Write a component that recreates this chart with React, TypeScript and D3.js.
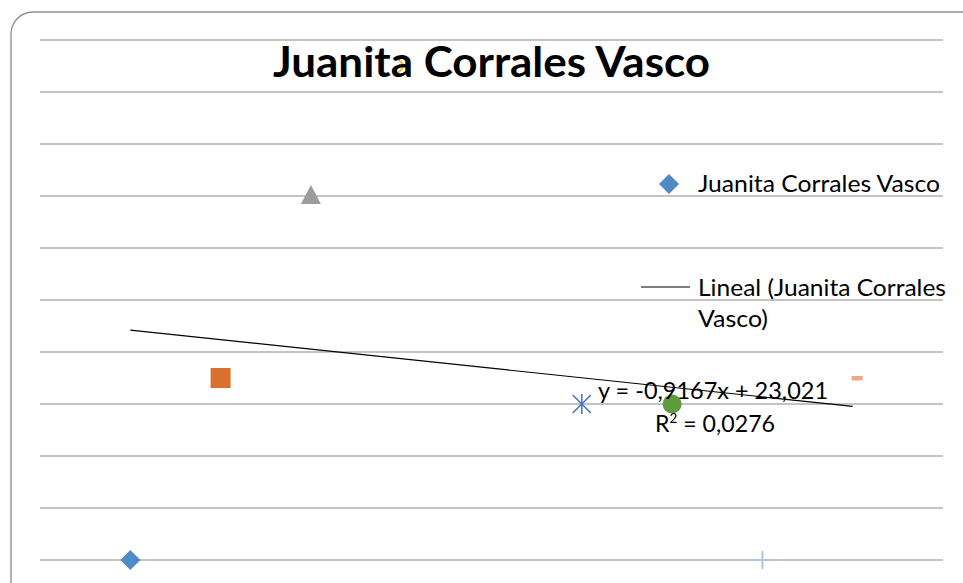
import React from "react";
import * as d3 from "d3";

const xValues = [1, 2, 3, 4, 6, 7, 8, 9];
const yValues = [0, 17.5, 35, 47.5, 15, 15, 0, 17.5];
const markerColors = ["#4f8ac6", "#d9702f", "#9c9c9c", "#f0b400", "#4472c4", "#5f9a3c", "#a9c6ea", "#f2a587"];
const markerKinds = ["diamond", "square", "triangle", "x", "star", "circle", "plus", "dash"];
const yTicks = [0, 5, 10, 15, 20, 25, 30, 35, 40, 45, 50];
const titleText = "Juanita Corrales Vasco";
const legendSeries = "Juanita Corrales Vasco";
const legendTrend1 = "Lineal (Juanita Corrales";
const legendTrend2 = "Vasco)";

const W = 963;
const H = 583;
const FONT = "Lato, 'Open Sans', sans-serif";

function Marker({ kind, cx, cy, color }: { kind: string; cx: number; cy: number; color: string }) {
  switch (kind) {
    case "diamond":
      return <path d={`M${cx},${cy - 10}L${cx + 10},${cy}L${cx},${cy + 10}L${cx - 10},${cy}Z`} fill={color} />;
    case "square":
      return <rect x={cx - 10} y={cy - 10} width={20} height={20} fill={color} />;
    case "triangle":
      return <path d={`M${cx},${cy - 11}L${cx + 10},${cy + 8}L${cx - 10},${cy + 8}Z`} fill={color} />;
    case "x":
      return (
        <g stroke={color} strokeWidth={1.5}>
          <line x1={cx - 6} y1={cy - 7} x2={cx + 6} y2={cy + 7} />
          <line x1={cx - 6} y1={cy + 7} x2={cx + 6} y2={cy - 7} />
        </g>
      );
    case "star":
      return (
        <g stroke={color} strokeWidth={1.5}>
          <line x1={cx - 9} y1={cy - 9} x2={cx + 9} y2={cy + 9} />
          <line x1={cx - 9} y1={cy + 9} x2={cx + 9} y2={cy - 9} />
          <line x1={cx} y1={cy - 10} x2={cx} y2={cy + 10} />
        </g>
      );
    case "circle":
      return <circle cx={cx} cy={cy} r={9.5} fill={color} />;
    case "plus":
      return (
        <g stroke={color} strokeWidth={2}>
          <line x1={cx - 9} y1={cy} x2={cx + 9} y2={cy} />
          <line x1={cx} y1={cy - 9} x2={cx} y2={cy + 9} />
        </g>
      );
    case "dash":
      return <rect x={cx - 1} y={cy - 2} width={11} height={4.5} fill={color} />;
    default:
      return null;
  }
}

export default function App() {
  const x = d3.scaleLinear().domain([0, 10]).range([40, 943]);
  const y = d3.scaleLinear().domain([0, 50]).range([560, 40]);

  const mx = d3.mean(xValues)!;
  const my = d3.mean(yValues)!;
  const sxy = d3.sum(xValues.map((v, i) => (v - mx) * (yValues[i] - my)));
  const sxx = d3.sum(xValues.map((v) => (v - mx) ** 2));
  const slope = sxy / sxx;
  const intercept = my - slope * mx;
  const x0 = d3.min(xValues)!;
  const x1 = d3.max(xValues)!;
  const line = d3.line<number>().x((d) => x(d)).y((d) => y(slope * d + intercept));

  const fmt = (v: number, digits: number) => v.toFixed(digits).replace(".", ",");
  const eq = `y = ${fmt(slope, 4)}x + ${fmt(intercept, 3)}`;

  return (
    <svg width={W} height={H} style={{ position: "absolute", left: 0, top: 0, background: "#fff" }}>
      <rect x={11} y={12} width={975} height={600} rx={22} ry={22} fill="#fff" stroke="#8c8c8c" strokeWidth={1.3} />
      {yTicks.map((t) => (
        <line key={t} x1={40} x2={943} y1={y(t)} y2={y(t)} stroke="#b0b0b0" strokeWidth={1.5} />
      ))}
      {xValues.map((v, i) =>
        markerKinds[i] === "x" ? (
          <Marker key={i} kind={markerKinds[i]} cx={x(v) + 3} cy={y(yValues[i])} color={markerColors[i]} />
        ) : null
      )}
      <text x={273} y={77} textLength={437} lengthAdjust="spacingAndGlyphs" fontFamily={FONT} fontWeight="bold" fontSize={42} fill="#000">
        {titleText}
      </text>
      <path d={line([x0, x1]) || ""} stroke="#000" strokeWidth={1.2} fill="none" />
      {xValues.map((v, i) =>
        markerKinds[i] !== "x" ? (
          <Marker key={i} kind={markerKinds[i]} cx={x(v)} cy={y(yValues[i])} color={markerColors[i]} />
        ) : null
      )}
      <text x={598} y={399} textLength={230} lengthAdjust="spacingAndGlyphs" fontFamily={FONT} fontSize={24} fill="#000">
        {eq}
      </text>
      <text x={655} y={432} textLength={120} lengthAdjust="spacingAndGlyphs" fontFamily={FONT} fontSize={24} fill="#000">
        R<tspan dy={-9} fontSize={14}>2</tspan>
        <tspan dy={9}> = {fmt(0.0276, 4)}</tspan>
      </text>
      <Marker kind="diamond" cx={669} cy={184} color={markerColors[0]} />
      <text x={698} y={192} textLength={242} lengthAdjust="spacingAndGlyphs" fontFamily={FONT} fontSize={24} fill="#000">
        {legendSeries}
      </text>
      <line x1={641} x2={690} y1={287} y2={287} stroke="#000" strokeWidth={1.2} />
      <text x={698} y={296} textLength={248} lengthAdjust="spacingAndGlyphs" fontFamily={FONT} fontSize={24} fill="#000">
        {legendTrend1}
      </text>
      <text x={698} y={327} textLength={70} lengthAdjust="spacingAndGlyphs" fontFamily={FONT} fontSize={24} fill="#000">
        {legendTrend2}
      </text>
    </svg>
  );
}
